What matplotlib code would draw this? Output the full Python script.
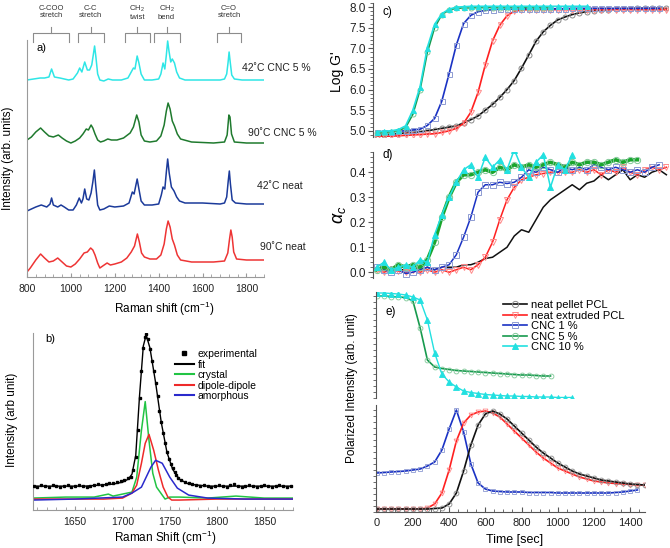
import matplotlib
matplotlib.use('Agg')
import matplotlib.pyplot as plt
from matplotlib.ticker import MultipleLocator, NullFormatter, NullLocator
from matplotlib.lines import Line2D

plt.rcParams['font.family'] = ['Liberation Sans', 'DejaVu Sans']
plt.rcParams['mathtext.fontset'] = 'custom'
plt.rcParams['mathtext.rm'] = 'Liberation Sans'
plt.rcParams['mathtext.it'] = 'Liberation Sans:italic'
plt.rcParams['mathtext.bf'] = 'Liberation Sans:bold'

# ---------------- data ----------------
# panel a: Raman spectra (offset, arb. units)
a_cyan_x = [800, 830, 860, 880, 900, 912, 925, 950, 970, 990, 1010, 1030, 1040, 1050, 1063, 1075, 1085, 1095, 1102, 1108,
            1114, 1122, 1132, 1150, 1170, 1190, 1230, 1260, 1275, 1285, 1292, 1302, 1310, 1320, 1335, 1370, 1400, 1410,
            1420, 1428, 1435, 1441, 1447, 1455, 1462, 1472, 1482, 1495, 1520, 1600, 1680, 1700, 1710, 1716, 1721, 1726,
            1733, 1745, 1780, 1880]
a_cyan_y = [197, 198, 199, 199, 200, 208, 200, 199, 198, 197, 198, 204, 209, 205, 215, 207, 207, 212, 222, 231,
            220, 203, 197, 196, 198, 197, 197, 199, 205, 209, 208, 221, 214, 203, 197, 197, 198, 203,
            214, 208, 222, 236, 226, 215, 218, 214, 205, 199, 197, 197, 197, 198, 203, 214, 225, 215,
            202, 198, 197, 197]
a_green_x = [800, 820, 840, 862, 880, 900, 920, 943, 960, 980, 1000, 1020, 1040, 1055, 1070, 1080, 1092, 1100, 1110,
             1122, 1135, 1150, 1168, 1185, 1210, 1240, 1270, 1285, 1300, 1310, 1320, 1335, 1360, 1390, 1410, 1425,
             1435, 1443, 1452, 1462, 1472, 1485, 1500, 1550, 1650, 1700, 1712, 1720, 1725, 1732, 1745, 1800, 1880]
a_green_y = [137, 140, 145, 149, 145, 141, 140, 142, 139, 136, 134, 136, 139, 143, 148, 147, 152, 149, 143,
             137, 135, 136, 138, 137, 137, 139, 144, 150, 162, 155, 142, 136, 135, 136, 141, 152,
             166, 174, 168, 156, 151, 143, 138, 135, 134, 135, 142, 162, 160, 143, 135, 134, 134]
a_blue_x = [800, 820, 840, 865, 890, 905, 912, 920, 940, 955, 970, 990, 1010, 1025, 1038, 1048, 1055, 1063, 1072,
            1082, 1092, 1100, 1107, 1113, 1122, 1132, 1150, 1175, 1200, 1240, 1265, 1280, 1288, 1302, 1310, 1320,
            1335, 1370, 1400, 1412, 1420, 1428, 1435, 1441, 1448, 1458, 1470, 1482, 1495, 1520, 1600, 1680, 1700,
            1710, 1717, 1722, 1727, 1735, 1750, 1800, 1880]
a_blue_y = [66, 68, 70, 72, 70, 73, 79, 72, 70, 72, 70, 67, 67, 72, 79, 74, 78, 88, 78,
            77, 84, 95, 107, 92, 72, 67, 68, 71, 70, 71, 74, 85, 83, 98, 88, 76,
            72, 72, 73, 82, 90, 88, 105, 118, 104, 90, 86, 80, 76, 74, 74, 73, 74,
            80, 96, 106, 93, 77, 74, 73, 73]
a_red_x = [800, 815, 840, 862, 880, 900, 920, 940, 960, 980, 1000, 1020, 1040, 1060, 1075, 1090, 1100, 1110, 1122,
           1132, 1145, 1165, 1180, 1200, 1230, 1255, 1275, 1290, 1303, 1312, 1322, 1335, 1360, 1390, 1410, 1425,
           1435, 1443, 1452, 1462, 1472, 1485, 1500, 1550, 1650, 1700, 1715, 1723, 1729, 1735, 1742, 1755, 1800, 1880]
a_red_y = [5, 9, 17, 23, 19, 15, 16, 19, 15, 11, 10, 13, 18, 24, 25, 29, 27, 22, 14,
           9, 11, 14, 12, 13, 15, 19, 25, 31, 43, 35, 24, 20, 18, 18, 22, 33,
           48, 56, 50, 38, 32, 22, 17, 15, 15, 16, 24, 38, 47, 40, 25, 18, 17, 17]
a_labels = ['42\u02daC CNC 5 %', '90\u02daC CNC 5 %', '42\u02daC neat', '90\u02daC neat']
a_groups = ['C-COO\nstretch', 'C-C\nstretch', 'CH$_2$\ntwist', 'CH$_2$\nbend', 'C=O\nstretch']
a_group_lo = [827, 1032, 1245, 1377, 1664]
a_group_hi = [991, 1150, 1359, 1495, 1777]

# panel b: C=O band deconvolution
b_exp_x = [1606, 1610, 1614, 1618, 1622, 1626, 1630, 1634, 1638, 1642, 1646, 1650, 1654, 1658, 1662, 1666, 1670,
           1674, 1678, 1682, 1686, 1690, 1694, 1698, 1702, 1706, 1709, 1711, 1714, 1716, 1718, 1720, 1722, 1724,
           1725, 1727, 1729, 1731, 1733, 1735, 1737, 1739, 1741, 1743, 1745, 1747, 1749, 1751, 1753, 1755, 1757,
           1759, 1762, 1766, 1770, 1774, 1778, 1782, 1786, 1790, 1794, 1798, 1802, 1806, 1810, 1814, 1818, 1822,
           1826, 1830, 1834, 1838, 1842, 1846, 1850, 1854, 1858, 1862, 1866, 1870, 1874, 1878]
b_exp_y = [24, 23, 25, 24, 23, 25, 24, 23, 24, 25, 23, 24, 25, 24, 23, 24, 25,
           26, 25, 26, 27, 27, 28, 29, 30, 32, 33, 40, 53, 80, 113, 140, 163, 174,
           177, 172, 162, 150, 140, 128, 115, 100, 88, 77, 67, 58, 51, 46, 42, 38, 35,
           32, 30, 28, 27, 26, 25, 24, 25, 24, 23, 24, 25, 24, 23, 25, 26, 24,
           23, 24, 25, 24, 23, 24, 25, 24, 23, 24, 25, 24, 23, 24]
b_fit_x = [1605, 1660, 1690, 1700, 1706, 1710, 1714, 1718, 1722, 1725, 1729, 1735, 1741, 1747, 1753, 1760, 1770, 1790, 1880]
b_fit_y = [24, 24, 26, 28, 31, 36, 55, 115, 165, 176, 163, 128, 88, 58, 41, 31, 26, 24, 24]
b_cry_x = [1605, 1640, 1670, 1685, 1690, 1700, 1710, 1715, 1720, 1724, 1728, 1732, 1736, 1742, 1745, 1750, 1760, 1790,
           1820, 1850, 1880]
b_cry_y = [12, 13, 13, 16, 14, 16, 18, 33, 80, 109, 70, 37, 23, 15, 11, 13, 13, 12, 14, 12, 12]
b_dip_x = [1605, 1680, 1700, 1710, 1715, 1720, 1724, 1728, 1733, 1738, 1743, 1748, 1752, 1760, 1800, 1880]
b_dip_y = [11, 11, 12, 17, 25, 47, 67, 76, 60, 40, 23, 13, 10, 10, 11, 11]
b_amo_x = [1605, 1650, 1700, 1710, 1720, 1725, 1730, 1735, 1742, 1750, 1758, 1770, 1790, 1830, 1880]
b_amo_y = [10, 11, 13, 17, 23, 33, 43, 50, 47, 33, 22, 15, 12, 11, 11]

# panels c-e: time series, sampled every 40 s
t40 = [0, 40, 80, 120, 160, 200, 240, 280, 320, 360, 400, 440, 480, 520, 560, 600, 640, 680, 720, 760, 800,
       840, 880, 920, 960, 1000, 1040, 1080, 1120, 1160, 1200, 1240, 1280, 1320, 1360, 1400, 1440, 1480,
       1520, 1560, 1600]
series = ['neat pellet PCL', 'neat extruded PCL', 'CNC 1 %', 'CNC 5 %', 'CNC 10 %']

c_black = [4.88, 4.90, 4.92, 4.93, 4.95, 4.96, 4.97, 5.00, 5.03, 5.06, 5.09, 5.12, 5.19, 5.27, 5.36, 5.50, 5.64,
           5.81, 6.00, 6.22, 6.52, 6.84, 7.17, 7.40, 7.56, 7.69, 7.76, 7.82, 7.86, 7.89, 7.91, 7.93, 7.94, 7.95,
           7.96, 7.96, 7.97, 7.97, 7.97, 7.97, 7.97]
c_red = [4.86, 4.87, 4.87, 4.88, 4.89, 4.90, 4.91, 4.92, 4.93, 4.96, 5.00, 5.06, 5.18, 5.45, 5.93, 6.60, 7.18,
         7.56, 7.79, 7.90, 7.93, 7.94, 7.94, 7.94, 7.94, 7.94, 7.94, 7.94, 7.94, 7.94, 7.94, 7.94, 7.94, 7.94,
         7.94, 7.94, 7.94, 7.94, 7.94, 7.94, 7.94]
c_blue = [4.97, 4.98, 4.98, 4.99, 5.00, 5.02, 5.04, 5.13, 5.30, 5.72, 6.38, 7.08, 7.60, 7.80, 7.89, 7.92, 7.94,
          7.95, 7.95, 7.95, 7.96, 7.96, 7.96, 7.96, 7.96, 7.96, 7.96, 7.97, 7.97, 7.97, 7.97, 7.97, 7.97, 7.97,
          7.97, 7.97, 7.97, 7.97, 7.97, 7.97]
c_green = [4.94, 4.95, 4.97, 5.00, 5.08, 5.40, 6.00, 6.90, 7.50, 7.82, 7.93, 7.97, 7.98, 7.98, 7.99, 7.99, 7.99,
           7.99, 7.99, 7.99, 7.99, 7.99, 7.99, 7.99, 7.99]
c_cyan = [4.98, 4.99, 5.00, 5.03, 5.12, 5.50, 6.07, 7.02, 7.58, 7.84, 7.95, 8.00, 8.01, 8.02, 8.02, 8.02, 8.02,
          8.02, 8.02, 8.02, 8.02, 8.02, 8.02, 8.02, 8.02, 8.02, 8.02, 8.02, 8.02, 8.02]

d_black = [0.01, 0.01, 0.02, 0.01, 0.01, 0.02, 0.01, 0.02, 0.01, 0.02, 0.02, 0.02, 0.03, 0.03, 0.04, 0.055, 0.06,
           0.08, 0.10, 0.145, 0.17, 0.16, 0.21, 0.26, 0.29, 0.31, 0.33, 0.35, 0.33, 0.356, 0.365, 0.39, 0.37,
           0.39, 0.41, 0.37, 0.39, 0.38, 0.40, 0.41, 0.39]
d_red = [0.01, 0.00, 0.01, 0.005, 0.00, 0.01, 0.00, 0.01, 0.00, 0.01, 0.00, 0.01, 0.02, 0.01, 0.03, 0.06, 0.12,
         0.21, 0.29, 0.34, 0.37, 0.38, 0.39, 0.395, 0.40, 0.40, 0.40, 0.40, 0.41, 0.40, 0.41, 0.39, 0.41, 0.40,
         0.42, 0.40, 0.39, 0.41, 0.42, 0.41, 0.42]
d_blue = [0.02, 0.01, 0.00, 0.01, -0.005, 0.00, 0.01, 0.02, 0.01, 0.02, 0.03, 0.07, 0.14, 0.22, 0.32, 0.35, 0.35,
          0.36, 0.355, 0.36, 0.38, 0.41, 0.40, 0.42, 0.41, 0.40, 0.42, 0.41, 0.42, 0.41, 0.43, 0.42, 0.41, 0.42,
          0.41, 0.40, 0.41, 0.40, 0.42, 0.43]
d_green = [0.01, 0.02, 0.01, 0.03, 0.02, 0.03, 0.02, 0.05, 0.12, 0.22, 0.30, 0.36, 0.39, 0.39, 0.40, 0.41, 0.40,
           0.42, 0.41, 0.43, 0.42, 0.43, 0.42, 0.43, 0.44, 0.43, 0.42, 0.44, 0.43, 0.44, 0.44, 0.43, 0.44, 0.45,
           0.44, 0.45, 0.45]
d_cyan = [0.02, 0.04, 0.01, 0.02, 0.03, 0.02, 0.05, 0.04, 0.15, 0.23, 0.30, 0.36, 0.41, 0.43, 0.38, 0.46, 0.42,
          0.45, 0.41, 0.49, 0.42, 0.38, 0.44, 0.47, 0.34, 0.43, 0.41, 0.47]

e_green_up = [102, 102, 101.5, 101, 100.5, 97, 70, 38, 31, 29.5, 28.5, 27.5, 27, 26.5, 26, 25.5, 25, 24.5, 24,
              23.5, 23, 23, 22.5, 22, 22]
e_cyan_up = [105, 105, 104.5, 104, 103, 101, 98, 78, 45, 24, 16, 11, 7, 5.5, 4.5, 3.5, 3, 2.5, 2, 2, 1.5, 1.5,
             1, 1, 1, 0.5, 0.5, 0.5]
e_black_lo = [3, 3, 3, 3, 3, 3, 3, 3, 3.5, 4, 8, 19, 41, 67, 87, 98, 101, 98, 93, 86, 79, 72, 65, 59, 54, 49, 45,
              41, 38, 36, 34, 32, 31, 30, 29, 28, 27.5, 27]
e_red_lo = [3, 3, 3, 3, 3, 3, 3, 4, 8, 19, 42, 71, 89, 97, 100, 101, 99, 95, 88, 81, 74, 67, 60, 54, 49, 44, 41,
            38, 35, 33, 31, 30, 29, 28.5, 28, 27.5, 27, 27]
e_blue_lo = [39, 39.5, 40, 40.5, 41, 42, 43, 46, 50, 62, 83, 102, 80, 48, 29, 23, 21, 20.5, 20, 20, 20, 19.5, 19.5,
             19.5, 19.5, 19, 19, 19, 19, 19, 19, 19, 19, 19.5, 20, 21, 22]

# ---------------- styles ----------------
col = {'pellet': '#111111', 'extr': '#ff2020', 'cnc1': '#1a32c4', 'cnc5': '#179a4e', 'cnc10': '#22e0e0'}
mk = {'pellet': dict(marker='o', mfc='none', mec='#8a8a8a'),
      'extr': dict(marker='v', mfc='none', mec='#ff8a8a'),
      'cnc1': dict(marker='s', mfc='none', mec='#8e9bd2'),
      'cnc5': dict(marker='o', mfc='none', mec='#80c898'),
      'cnc10': dict(marker='^', mfc='#22e0e0', mec='#22e0e0')}
keys = ['pellet', 'extr', 'cnc1', 'cnc5', 'cnc10']

W, H = 670, 548
fig = plt.figure(figsize=(W / 100, H / 100), dpi=100)


def add_ax(x0, y0, x1, y1):
    return fig.add_axes([x0 / W, 1 - y1 / H, (x1 - x0) / W, (y1 - y0) / H])


spine_gray = '#9a9a9a'
dark = '#555555'

# ---------------- panel a ----------------
ax = add_ax(27, 40, 264, 277)
for xs, ys, c in [(a_cyan_x, a_cyan_y, '#2ee6e6'), (a_green_x, a_green_y, '#1f7a2e'),
                  (a_blue_x, a_blue_y, '#1b3a9a'), (a_red_x, a_red_y, '#ee3434')]:
    ax.plot(xs, ys, color=c, lw=1.1)
ax.set_xlim(800, 1880)
ax.set_ylim(0, 237)
for s in ['top', 'right']:
    ax.spines[s].set_visible(False)
for s in ['left', 'bottom']:
    ax.spines[s].set_color(spine_gray)
ax.yaxis.set_major_locator(NullLocator())
ax.xaxis.set_major_locator(MultipleLocator(200))
ax.xaxis.set_minor_locator(MultipleLocator(40))
ax.tick_params(axis='x', which='both', direction='in', colors=spine_gray, labelcolor='#222222',
               labelsize=7.5, pad=5)
ax.tick_params(axis='x', which='major', length=3)
ax.tick_params(axis='x', which='minor', length=2)
for lab, (x, y) in zip(a_labels, [(1782, 209), (1805, 144), (1850, 91), (1864, 30)]):
    ax.text(x, y, lab, fontsize=7.5, va='center', ha='left', color='#222222')
ax.text(845, 229, 'a)', fontsize=8, va='center', ha='left')
for lab, lo, hi in zip(a_groups, a_group_lo, a_group_hi):
    mid = (lo + hi) / 2
    ax.plot([lo, lo, hi, hi], [235, 244, 244, 235], color='#8c8c8c', lw=0.8, clip_on=False)
    ax.plot([mid, mid], [244, 250], color='#8c8c8c', lw=0.8, clip_on=False)
    ax.text(mid, 265, lab, fontsize=5.5, ha='center', va='center', linespacing=1.0, color='#333333')
fig.text(8 / W, 1 - 158 / H, 'Intensity (arb. units)', rotation=90, fontsize=8.5, ha='center', va='center')
fig.text(164 / W, 1 - 309 / H, 'Raman shift (cm$^{-1}$)', fontsize=8.5, ha='center', va='center')

# ---------------- panel b ----------------
ax = add_ax(32.7, 333, 292.7, 510)
ax.plot(b_fit_x, b_fit_y, color='black', lw=1.0, label='fit', zorder=3)
ax.plot(b_exp_x, b_exp_y, ls='none', marker='s', ms=1.7, color='black', label='experimental', zorder=4)
ax.plot(b_cry_x, b_cry_y, color='#22c444', lw=1.1, label='crystal')
ax.plot(b_dip_x, b_dip_y, color='#ee2a2a', lw=1.1, label='dipole-dipole')
ax.plot(b_amo_x, b_amo_y, color='#2a2acc', lw=1.1, label='amorphous')
ax.set_xlim(1605, 1880)
ax.set_ylim(0, 178)
for s in ['top', 'right']:
    ax.spines[s].set_visible(False)
for s in ['left', 'bottom']:
    ax.spines[s].set_color(spine_gray)
ax.yaxis.set_major_locator(NullLocator())
ax.xaxis.set_major_locator(MultipleLocator(50))
ax.xaxis.set_minor_locator(MultipleLocator(10))
ax.tick_params(axis='x', which='both', direction='in', colors=spine_gray, labelcolor='#222222',
               labelsize=7.5, pad=5)
ax.tick_params(axis='x', which='major', length=3)
ax.tick_params(axis='x', which='minor', length=2)
ax.text(1618, 172, 'b)', fontsize=8, va='center', ha='left')
hb = [Line2D([], [], ls='none', marker='s', ms=2.5, color='black'),
      Line2D([], [], color='black', lw=1.5), Line2D([], [], color='#22c444', lw=1.5),
      Line2D([], [], color='#ee2a2a', lw=1.5), Line2D([], [], color='#2a2acc', lw=1.5)]
fig.legend(hb, ['experimental', 'fit', 'crystal', 'dipole-dipole', 'amorphous'],
           loc='upper left', bbox_to_anchor=(175 / W, 1 - 349 / H), bbox_transform=fig.transFigure,
           frameon=False, fontsize=7.5, handlelength=1.8, handletextpad=0.4, labelspacing=0.05,
           borderpad=0, borderaxespad=0)
fig.text(165 / W, 1 - 538 / H, 'Raman Shift (cm$^{-1}$)', fontsize=8.5, ha='center', va='center')
fig.text(12 / W, 1 - 420 / H, 'Intensity (arb unit)', rotation=90, fontsize=8.5, ha='center', va='center')


def style_left(ax, major, minor, labels=True):
    for s in ['top', 'right', 'bottom']:
        ax.spines[s].set_visible(False)
    ax.spines['left'].set_color(dark)
    ax.xaxis.set_major_locator(NullLocator())
    ax.xaxis.set_minor_locator(NullLocator())
    if major:
        ax.yaxis.set_major_locator(MultipleLocator(major))
    else:
        ax.yaxis.set_major_locator(NullLocator())
    ax.yaxis.set_minor_locator(MultipleLocator(minor))
    ax.tick_params(axis='y', which='both', direction='out', colors=dark, labelcolor='#222222',
                   labelsize=8.5, pad=1.5)
    ax.tick_params(axis='y', which='major', length=3.5)
    ax.tick_params(axis='y', which='minor', length=2)


# ---------------- panel c ----------------
ax = add_ax(373, 3, 668, 137)
for k, ys in zip(keys, [c_black, c_red, c_blue, c_green, c_cyan]):
    ax.plot(t40[:len(ys)], ys, color=col[k], lw=1.2, ms=3.6, mew=0.7, **mk[k])
ax.set_xlim(-20, 1609)
ax.set_ylim(4.85, 8.1)
style_left(ax, 0.5, 0.1)
ax.yaxis.set_major_formatter(matplotlib.ticker.FormatStrFormatter('%.1f'))
ax.text(35, 7.88, 'c)', fontsize=8.5, va='center', ha='left')
fig.text(337 / W, 1 - 72 / H, "Log G'", rotation=90, fontsize=10, ha='center', va='center')

# ---------------- panel d ----------------
ax = add_ax(373, 152, 668, 278)
lw_d = {'pellet': 1.1, 'extr': 1.1, 'cnc1': 1.1, 'cnc5': 2.6, 'cnc10': 1.1}
for k, ys in zip(keys, [d_black, d_red, d_blue, d_green, d_cyan]):
    style = dict(mk[k])
    if k == 'pellet':
        style = dict(marker='none')
    c = '#1aa52c' if k == 'cnc5' else col[k]
    ax.plot(t40[:len(ys)], ys, color=c, lw=lw_d[k], ms=4.5, mew=0.7, **style)
ax.set_xlim(-20, 1609)
ax.set_ylim(-0.023, 0.481)
style_left(ax, 0.1, 0.02)
ax.yaxis.set_major_formatter(matplotlib.ticker.FormatStrFormatter('%.1f'))
ax.text(35, 0.469, 'd)', fontsize=8.5, va='center', ha='left')
fig.text(340 / W, 1 - 215 / H, r'$\alpha_c$', rotation=90, fontsize=13, ha='center', va='center')

# ---------------- panel e ----------------
axu = add_ax(376, 292, 645, 398)
axl = add_ax(376, 405, 645, 512)
axu.plot(t40[:len(e_green_up)], e_green_up, color=col['cnc5'], lw=1.2, ms=3.5, mew=0.6, **mk['cnc5'])
axu.plot(t40[:len(e_cyan_up)], e_cyan_up, color=col['cnc10'], lw=1.0, ms=4, mew=0.6, **mk['cnc10'])
axu.set_xlim(-4, 1482)
axu.set_ylim(0, 106)
style_left(axu, None, 6)
axu.yaxis.set_minor_formatter(NullFormatter())
axu.text(46, 86, 'e)', fontsize=8.5, va='center', ha='left')

axl.plot(t40[:len(e_blue_lo)], e_blue_lo, color=col['cnc1'], lw=1.2, ms=3.5, mew=0.6, **mk['cnc1'])
axl.plot(t40[:len(e_red_lo)], e_red_lo, color=col['extr'], lw=1.2, ms=3.5, mew=0.6, **mk['extr'])
axl.plot(t40[:len(e_black_lo)], e_black_lo, color=col['pellet'], lw=1.2, ms=3.5, mew=0.6, **mk['pellet'])
axl.set_xlim(-4, 1482)
axl.set_ylim(0, 107)
style_left(axl, None, 6)
axl.yaxis.set_minor_formatter(NullFormatter())
axl.spines['bottom'].set_visible(True)
axl.spines['bottom'].set_color(dark)
axl.xaxis.set_major_locator(MultipleLocator(200))
axl.xaxis.set_minor_locator(MultipleLocator(50))
axl.tick_params(axis='x', which='both', direction='in', colors=dark, labelcolor='#222222', labelsize=8, pad=4)
axl.tick_params(axis='x', which='major', length=3.5)
axl.tick_params(axis='x', which='minor', length=2)
fig.text(515 / W, 1 - 540 / H, 'Time [sec]', fontsize=9, ha='center', va='center')
fig.text(352 / W, 1 - 388 / H, 'Polarized Intensity (arb. unit)', rotation=90, fontsize=8.5,
         ha='center', va='center')

he = [Line2D([], [], color=col[k], lw=1.2, ms=4.5, mew=0.7, **mk[k]) for k in keys]
fig.legend(he, series, loc='upper left', bbox_to_anchor=(503 / W, 1 - 300 / H), bbox_transform=fig.transFigure,
           frameon=False, fontsize=8, handlelength=2.2, handletextpad=0.3, labelspacing=0.05,
           borderpad=0, borderaxespad=0)

fig.savefig('out.png', dpi=100)
